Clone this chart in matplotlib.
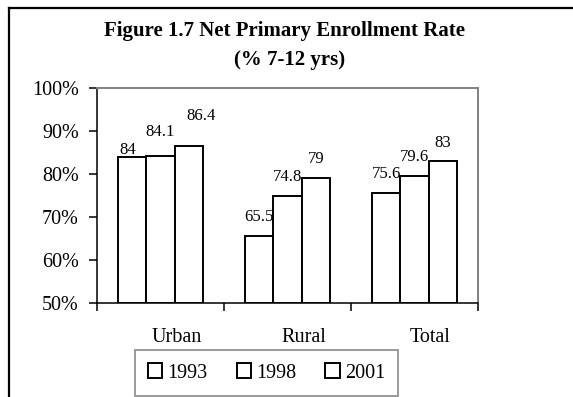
import numpy as np
import matplotlib
matplotlib.use('Agg')
import matplotlib.pyplot as plt
import matplotlib.transforms as mtransforms
from matplotlib.patches import Patch
from matplotlib.lines import Line2D

plt.rcParams['font.family'] = 'Liberation Serif'

# enrollment rates (%)
categories = ['Urban', 'Rural', 'Total']
years = ['1993', '1998', '2001']
rate_1993 = [84, 65.5, 75.6]
rate_1998 = [84.1, 74.8, 79.6]
rate_2001 = [86.4, 79, 83]
yticks = [50, 60, 70, 80, 90, 100]

series = [rate_1993, rate_1998, rate_2001]

# label offsets in points (dx, dy) from the top centre of each bar
lbl_off = [[(-3.6, 5.0), (0, 13.7), (0, 13.7)],
           [(0, 17.3), (0, 13.7), (0, 13.7)],
           [(8.6, 21.6), (0, 13.7), (0, 13.0)]]

fig = plt.figure(figsize=(5.73, 3.97), dpi=100)
ax = fig.add_axes([97/573, 1-303/397, (478-97)/573, (303-88)/397])

x = np.arange(len(categories))
w = 1/4.5
for j, vals in enumerate(series):
    xs = x + (j-1)*w
    ax.bar(xs, np.array(vals)-50, bottom=50, width=w, color='white',
           edgecolor='black', linewidth=1.4, zorder=3)
    for i, v in enumerate(vals):
        dx, dy = lbl_off[j][i]
        ax.annotate(f'{v:g}', (xs[i], v), xytext=(dx, dy),
                    textcoords='offset points', ha='center', va='center',
                    fontsize=12, zorder=4)

ax.set_xlim(-0.5, 2.5)
ax.set_ylim(50, 100)
ax.set_yticks(yticks)
ax.set_yticklabels([f'{t}%' for t in yticks], fontsize=14.5)
ax.set_xticks([-0.5, 0.5, 1.5, 2.5])
ax.set_xticklabels([])
ax.set_xticks(x, minor=True)
ax.set_xticklabels(categories, minor=True, fontsize=14.5)
ax.tick_params(axis='x', which='minor', length=0, pad=18)
ax.tick_params(axis='x', which='major', length=6, width=1.1, direction='out')
ax.tick_params(axis='y', length=6, width=1.1, pad=7)
# category names sit a little right of the group centres
shift = mtransforms.ScaledTranslation(16/100, 0, fig.dpi_scale_trans)
for lbl in ax.get_xticklabels(minor=True):
    lbl.set_transform(lbl.get_transform() + shift)
for s in ['top', 'right']:
    ax.spines[s].set_color('#808080')
    ax.spines[s].set_linewidth(1.4)
for s in ['left', 'bottom']:
    ax.spines[s].set_color('black')
    ax.spines[s].set_linewidth(1.1)

fig.text(284.5/573, 1-31/397, 'Figure 1.7 Net Primary Enrollment Rate',
         ha='center', va='center', fontsize=15, fontweight='bold')
fig.text(290/573, 1-60/397, '(% 7-12 yrs)',
         ha='center', va='center', fontsize=15, fontweight='bold')

handles = [Patch(facecolor='white', edgecolor='black', linewidth=1.4) for _ in years]
leg = fig.legend(handles, years, loc='center', bbox_to_anchor=(266.5/573, 1-373/397),
                 ncol=3, fontsize=14.5, frameon=True, fancybox=False,
                 handlelength=0.72, handleheight=0.72, handletextpad=0.25,
                 columnspacing=1.45, borderpad=0.65, borderaxespad=0)
leg.get_frame().set_edgecolor('#808080')
leg.get_frame().set_linewidth(1.4)

# outer chart border (top and left edges)
fig.add_artist(Line2D([9/573, 1], [1-8/397, 1-8/397], color='black', linewidth=1.6))
fig.add_artist(Line2D([9/573, 9/573], [0, 1-8/397], color='black', linewidth=1.6))

fig.savefig('out.png', dpi=100)
